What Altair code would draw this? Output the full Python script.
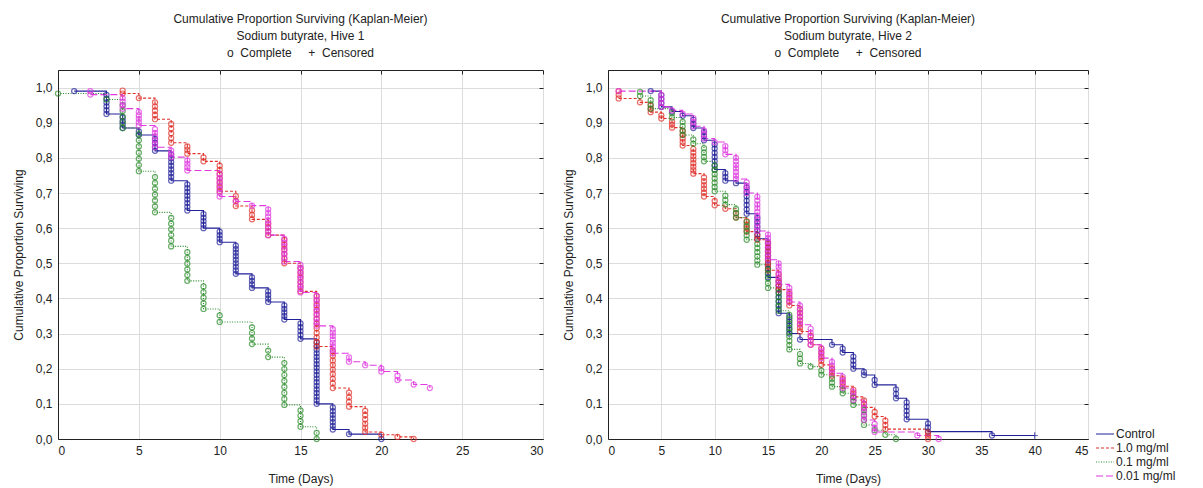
import altair as alt
import pandas as pd

SERIES = ["Control", "1.0 mg/ml", "0.1 mg/ml", "0.01 mg/ml"]
COLORS = ["#22229a", "#e0302a", "#2a8c2a", "#e03ae0"]
DASHES = [[1, 0], [3, 2], [1, 1.5], [7, 3]]

# ---------------- Hive 1 (event times, survival after event, deaths at event) ----
h1_ctrl_t = [1, 3, 4, 5, 6, 7, 8, 9, 10, 11, 12, 13, 14, 15, 16, 17, 18, 20]
h1_ctrl_s = [0.99, 0.925, 0.885, 0.865, 0.82, 0.735, 0.65, 0.60, 0.56, 0.47, 0.43, 0.39, 0.34, 0.285, 0.10, 0.027, 0.014, 0.0]
h1_ctrl_n = [1, 6, 4, 2, 4, 8, 8, 5, 4, 9, 4, 4, 5, 5, 18, 7, 1, 1]

h1_r10_t = [4, 5, 6, 7, 8, 9, 10, 11, 12, 13, 14, 15, 16, 17, 18, 19, 20, 21, 22]
h1_r10_s = [0.983, 0.97, 0.91, 0.843, 0.812, 0.79, 0.705, 0.663, 0.625, 0.58, 0.50, 0.42, 0.263, 0.145, 0.092, 0.02, 0.012, 0.006, 0.0]
h1_r10_n = [2, 1, 5, 5, 3, 2, 7, 3, 3, 4, 6, 6, 12, 9, 4, 6, 1, 1, 1]

h1_g01_t = [0, 3, 4, 5, 6, 7, 8, 9, 10, 12, 13, 14, 15, 16]
h1_g01_s = [0.983, 0.966, 0.885, 0.762, 0.645, 0.548, 0.45, 0.37, 0.333, 0.27, 0.233, 0.097, 0.035, 0.0]
h1_g01_n = [1, 1, 5, 7, 7, 6, 6, 5, 2, 4, 2, 8, 4, 2]

h1_m001_t = [2, 4, 5, 6, 7, 8, 10, 11, 12, 13, 14, 15, 16, 17, 18, 19, 20, 21, 22, 23]
h1_m001_s = [0.98, 0.94, 0.892, 0.83, 0.802, 0.764, 0.69, 0.676, 0.664, 0.58, 0.505, 0.417, 0.322, 0.244, 0.22, 0.21, 0.192, 0.168, 0.155, 0.145]
h1_m001_n = [2, 4, 5, 6, 3, 4, 7, 1, 1, 8, 7, 9, 9, 8, 2, 1, 2, 2, 1, 1]

# ---------------- Hive 2 ----------------
h2_ctrl_t = [4, 5, 6, 7, 8, 9, 10, 11, 12, 13, 14, 15, 16, 17, 18, 21, 22, 23, 24, 25, 27, 28, 30, 36]
h2_ctrl_s = [0.99, 0.945, 0.932, 0.92, 0.885, 0.85, 0.767, 0.735, 0.728, 0.641, 0.57, 0.46, 0.358, 0.30, 0.283, 0.268, 0.246, 0.20, 0.182, 0.154, 0.116, 0.056, 0.021, 0.01]
h2_ctrl_n = [1, 4, 1, 1, 3, 3, 7, 3, 1, 7, 6, 9, 9, 5, 1, 1, 2, 4, 2, 2, 3, 5, 3, 1]
h2_ctrl_cens_t = [40]
h2_ctrl_cens_s = [0.01]

h2_r10_t = [1, 3, 4, 5, 6, 7, 8, 9, 10, 11, 12, 13, 14, 15, 16, 17, 18, 19, 20, 21, 22, 23, 24, 25, 26, 30]
h2_r10_s = [0.969, 0.958, 0.93, 0.912, 0.886, 0.835, 0.755, 0.69, 0.665, 0.655, 0.63, 0.59, 0.567, 0.48, 0.425, 0.38, 0.306, 0.268, 0.211, 0.18, 0.15, 0.12, 0.09, 0.064, 0.028, 0.0]
h2_r10_n = [3, 1, 3, 2, 3, 5, 8, 6, 2, 1, 2, 4, 2, 8, 5, 4, 7, 3, 5, 3, 3, 3, 3, 2, 3, 3]

h2_g01_t = [3, 4, 6, 7, 8, 9, 10, 11, 12, 13, 14, 15, 16, 17, 18, 19, 20, 21, 22, 23, 24, 25, 26, 27]
h2_g01_s = [0.976, 0.94, 0.915, 0.865, 0.84, 0.79, 0.705, 0.667, 0.63, 0.567, 0.496, 0.43, 0.365, 0.255, 0.215, 0.206, 0.183, 0.149, 0.13, 0.097, 0.04, 0.025, 0.012, 0.0]
h2_g01_n = [2, 3, 2, 4, 2, 4, 7, 3, 3, 5, 6, 5, 5, 9, 3, 1, 2, 3, 2, 3, 4, 1, 1, 1]

h2_m001_t = [1, 5, 6, 7, 8, 9, 10, 11, 12, 13, 14, 15, 16, 17, 18, 19, 20, 21, 22, 23, 24, 25, 29, 31]
h2_m001_s = [0.99, 0.945, 0.935, 0.925, 0.89, 0.855, 0.845, 0.81, 0.74, 0.70, 0.592, 0.51, 0.44, 0.39, 0.325, 0.268, 0.23, 0.187, 0.145, 0.111, 0.054, 0.02, 0.01, 0.0]
h2_m001_n = [1, 4, 1, 1, 3, 3, 1, 3, 7, 4, 10, 8, 7, 5, 6, 5, 4, 4, 4, 3, 5, 3, 1, 1]

NB = "\u00a0"
SUB = "o" + NB + NB + "Complete" + NB * 5 + "+" + NB + NB + "Censored"
TITLE1 = ["Cumulative Proportion Surviving (Kaplan-Meier)", "Sodium butyrate, Hive 1", SUB]
TITLE2 = ["Cumulative Proportion Surviving (Kaplan-Meier)", "Sodium butyrate, Hive 2", SUB]
Y_TICKS = [0.0, 0.1, 0.2, 0.3, 0.4, 0.5, 0.6, 0.7, 0.8, 0.9, 1.0]
X1_TICKS = [0, 5, 10, 15, 20, 25, 30]
X2_TICKS = [0, 5, 10, 15, 20, 25, 30, 35, 40, 45]

FONT = "Liberation Sans"


def build(series_list):
    lines, pts, cens = [], [], []
    for name, ts, ss, ns, ct, cs in series_list:
        prev = 1.0
        for t, s, n in zip(ts, ss, ns):
            lines.append(dict(series=name, t=t, s=s))
            for k in range(1, n + 1):
                pts.append(dict(series=name, t=t, s=prev - k * (prev - s) / n))
            prev = s
        for t, s in zip(ct, cs):
            lines.append(dict(series=name, t=t, s=s))
            cens.append(dict(series=name, t=t, s=s))
    return pd.DataFrame(lines), pd.DataFrame(pts), pd.DataFrame(cens, columns=["series", "t", "s"])


def panel(series_list, xmax, xticks, width, title):
    dl, dp, dc = build(series_list)
    xs = alt.Scale(domain=[0, xmax], nice=False, zero=False)
    ys = alt.Scale(domain=[0, 1.05], nice=False)
    xaxis = alt.Axis(title="Time (Days)", values=xticks, format="d", grid=True, ticks=False,
                     labelPadding=6, titlePadding=17)
    yaxis = alt.Axis(title="Cumulative Proportion Surviving", values=Y_TICKS, grid=True, ticks=False,
                     labelExpr="replace(format(datum.value, '.1f'), '.', ',')",
                     labelPadding=6, titlePadding=10)
    color = alt.Color("series:N", scale=alt.Scale(domain=SERIES, range=COLORS), sort=SERIES,
                      legend=alt.Legend(title=None))
    dash = alt.StrokeDash("series:N", scale=alt.Scale(domain=SERIES, range=DASHES), sort=SERIES,
                          legend=alt.Legend(title=None))
    lines = alt.Chart(dl).mark_line(interpolate="step-after", strokeWidth=1.1).encode(
        x=alt.X("t:Q", scale=xs, axis=xaxis),
        y=alt.Y("s:Q", scale=ys, axis=yaxis),
        color=color, strokeDash=dash, detail="series:N",
    )
    pts = alt.Chart(dp).mark_point(shape="circle", filled=False, size=26, strokeWidth=1.2).encode(
        x=alt.X("t:Q", scale=xs, axis=None),
        y=alt.Y("s:Q", scale=ys, axis=None),
        stroke=alt.Stroke("series:N", scale=alt.Scale(domain=SERIES, range=COLORS), legend=None),
    )
    layers = [lines, pts]
    if len(dc):
        cz = alt.Chart(dc).mark_point(shape="M-1,0L1,0M0,-1L0,1", filled=False, size=40, strokeWidth=1.2).encode(
            x=alt.X("t:Q", scale=xs, axis=None),
            y=alt.Y("s:Q", scale=ys, axis=None),
            stroke=alt.Stroke("series:N", scale=alt.Scale(domain=SERIES, range=COLORS), legend=None),
        )
        layers.append(cz)
    tk = alt.Chart(dl).mark_point(opacity=0).encode(
        x=alt.X("t:Q", scale=xs, axis=alt.Axis(orient="top", values=xticks, labels=False, domain=False,
                                                grid=False, ticks=True, tickSize=4, offset=-4, title=None)),
        y=alt.Y("s:Q", scale=ys, axis=alt.Axis(orient="right", values=Y_TICKS, labels=False, domain=False,
                                                grid=False, ticks=True, tickSize=4, offset=-4, title=None)),
    )
    layers.append(tk)
    return alt.layer(*layers).resolve_axis(x="independent", y="independent").properties(
        width=width, height=369,
        title=alt.TitleParams(text=title, anchor="middle"),
    )


p1 = panel([
    ("Control", h1_ctrl_t, h1_ctrl_s, h1_ctrl_n, [], []),
    ("1.0 mg/ml", h1_r10_t, h1_r10_s, h1_r10_n, [], []),
    ("0.1 mg/ml", h1_g01_t, h1_g01_s, h1_g01_n, [], []),
    ("0.01 mg/ml", h1_m001_t, h1_m001_s, h1_m001_n, [], []),
], 30, X1_TICKS, 485, TITLE1)

p2 = panel([
    ("Control", h2_ctrl_t, h2_ctrl_s, h2_ctrl_n, h2_ctrl_cens_t, h2_ctrl_cens_s),
    ("1.0 mg/ml", h2_r10_t, h2_r10_s, h2_r10_n, [], []),
    ("0.1 mg/ml", h2_g01_t, h2_g01_s, h2_g01_n, [], []),
    ("0.01 mg/ml", h2_m001_t, h2_m001_s, h2_m001_n, [], []),
], 45, X2_TICKS, 480, TITLE2)

chart = alt.hconcat(p1, p2, spacing=17).properties(
    padding={"left": 11, "top": 12, "right": 5, "bottom": 2},
    background="white",
).configure_view(
    stroke="#222222", strokeWidth=1,
).configure_axis(
    labelFont=FONT, titleFont=FONT, labelFontSize=12, titleFontSize=12,
    titleFontWeight="normal", labelColor="#222222", titleColor="#222222",
    gridColor="#dcdcdc", gridWidth=1, domainColor="#222222", tickColor="#222222",
).configure_title(
    font=FONT, fontSize=12, fontWeight="normal", color="#222222", lineHeight=17, offset=10,
).configure_legend(
    orient="none", legendX=1040, legendY=357, symbolType="M-1.5,0L1.5,0", symbolSize=144,
    symbolStrokeWidth=1.2, labelFont=FONT, labelFontSize=12, labelColor="#222222",
    rowPadding=1, labelOffset=4, padding=0,
)

chart.save("out.html", embed_options={"renderer": "svg", "actions": False})
